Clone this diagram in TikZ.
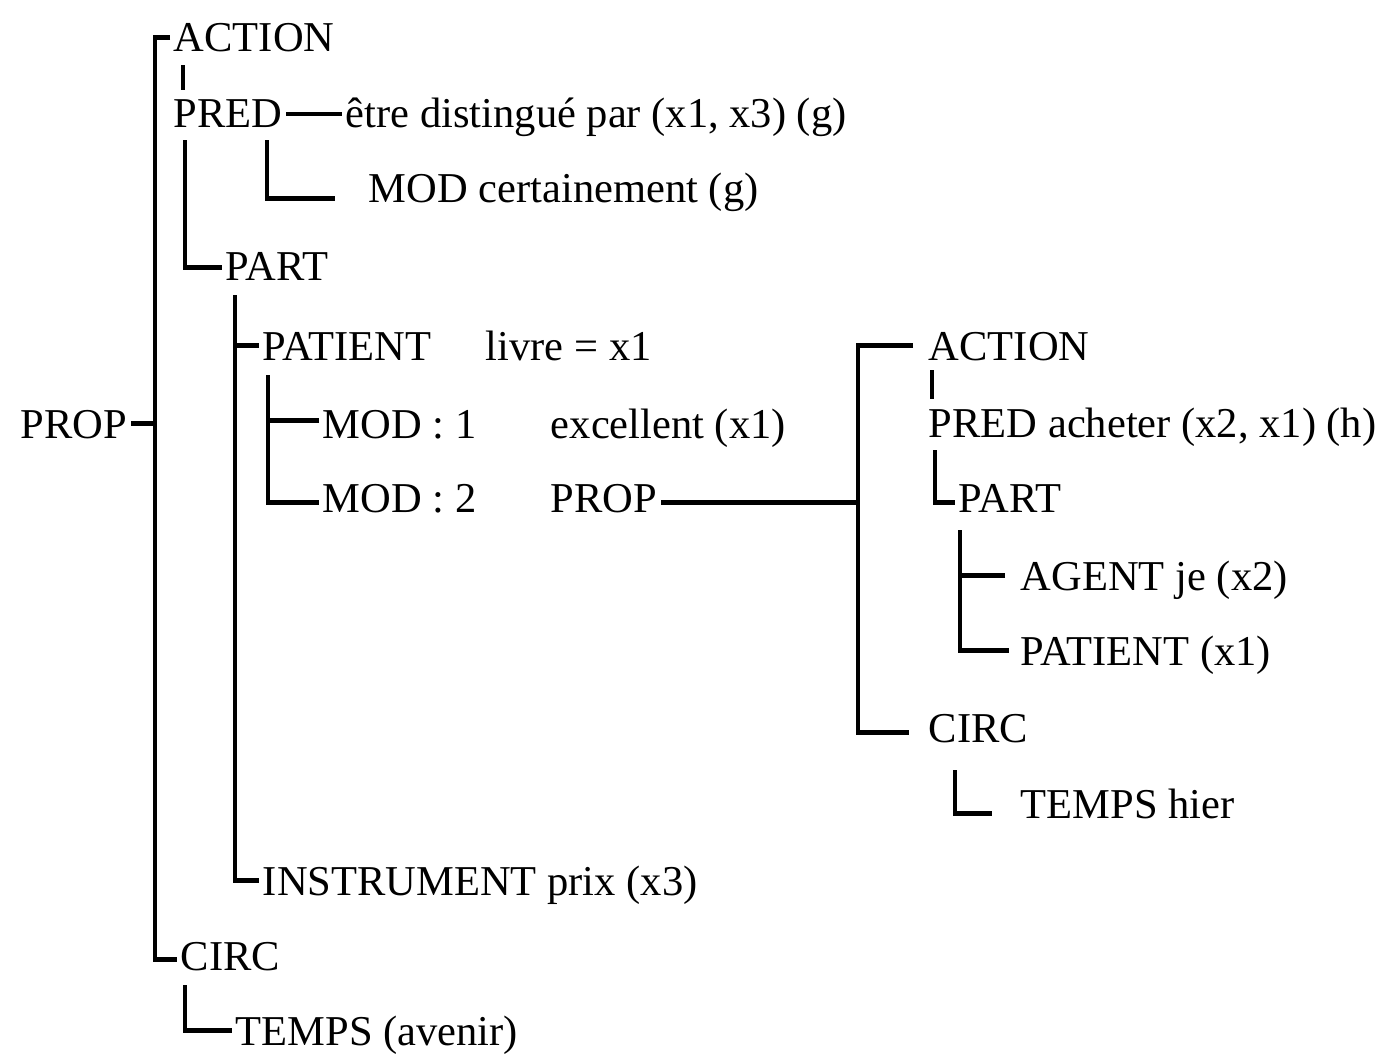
\documentclass[tikz,border=0pt]{standalone}
\usepackage{fontspec}
\setmainfont{Liberation Serif}
\usetikzlibrary{calc}
\begin{document}
\begin{tikzpicture}[x=0.02cm, y=-0.02cm,
    lbl/.style={anchor=base west, inner xsep=2pt, inner ysep=0pt,
        text height=16pt, text depth=0pt,
        font=\fontsize{24.2}{29}\selectfont},
    link/.style={line width=2.8pt},
    thinlink/.style={line width=1.8pt}]
    % Page
    \fill[white] (0,0) rectangle (1392,1054);
    \useasboundingbox (0,0) rectangle (1392,1054);

    % Outer proposition
    \node[lbl] (prop) at (17,438) {PROP};
    \node[lbl] (act) at (170,52) {ACTION};
    \node[lbl] (pred) at (170,128) {PRED};
    \node[lbl] (etre) at (342,128) {être distingué par (x1, x3) (g)};
    \node[lbl] (modc) at (365,203) {MOD certainement (g)};
    \node[lbl] (part) at (222,280) {PART};
    \node[lbl] (pat) at (259,360) {PATIENT};
    \node[lbl] (livre) at (482,360) {livre = x1};
    \node[lbl] (mod1) at (319,438) {MOD : 1};
    \node[lbl] (exc) at (547,438) {excellent (x1)};
    \node[lbl] (mod2) at (319,512) {MOD : 2};
    \node[lbl] (propb) at (547,512) {PROP};
    \node[lbl] (instr) at (259,895) {INSTRUMENT prix (x3)};
    \node[lbl] (circ) at (177,970) {CIRC};
    \node[lbl] (temps) at (232,1045) {TEMPS (avenir)};

    % Embedded proposition
    \node[lbl] (actb) at (925,360) {ACTION};
    \node[lbl] (predb) at (925,437) {PRED acheter (x2, x1) (h)};
    \node[lbl] (partb) at (955,512) {PART};
    \node[lbl] (agent) at (1017,590) {AGENT je (x2)};
    \node[lbl] (patb) at (1017,665) {PATIENT (x1)};
    \node[lbl] (circb) at (925,742) {CIRC};
    \node[lbl] (tempsb) at (1017,818) {TEMPS hier};

    % Buses
    \coordinate (busA) at (155,0);
    \coordinate (busB) at (858,0);

    % Outer tree
    \draw[link] (prop.east) -- (prop.east -| busA);
    \draw[link] (act.west) -| (busA |- prop.east) |- ($(circ.west)+(0,4)$);
    \draw[link] ($(act.south west)+(13,13)$) -- ($(pred.north west)+(13,-10)$);
    \draw[thinlink] (pred.east) -- (etre.west);
    \draw[link] ($(pred.south west)+(97,12)$) |- ($(modc.west)+(-30,10)$);
    \draw[link] ($(pred.south west)+(15,12)$) |- ($(part.west)+(0,2)$);
    \draw[link] ($(part.south west)+(13,15)$) |- (instr.west);
    \draw[link] (pat.west) -| ($(part.south west)+(13,15)$);
    \draw[link] ($(pat.south west)+(9,15)$) |- ($(mod2.west)+(0,5)$);
    \draw[link] ($(mod1.west)+(0,-3)$) -| ($(pat.south west)+(9,15)$);
    \draw[link] ($(circ.south west)+(8,15)$) |- (temps.west);

    % Embedded tree
    \draw[link] ($(propb.east)+(0,5)$) -- ($(propb.east -| busB)+(0,5)$);
    \draw[link] ($(actb.west)+(-12,0)$) -| ($(busB |- propb.east)+(0,5)$) |- ($(circb.west)+(-16,5)$);
    \draw[link] ($(actb.south west)+(7,10)$) -- ($(predb.north west)+(7,-10)$);
    \draw[link] ($(predb.south west)+(10,13)$) |- ($(partb.west)+(0,5)$);
    \draw[link] ($(partb.south west)+(5,18)$) |- ($(patb.west)+(-8,0)$);
    \draw[link] ($(agent.west)+(-12,0)$) -| ($(partb.south west)+(5,18)$);
    \draw[link] ($(circb.south west)+(30,28)$) |- ($(tempsb.west)+(-25,10)$);
\end{tikzpicture}
\end{document}
